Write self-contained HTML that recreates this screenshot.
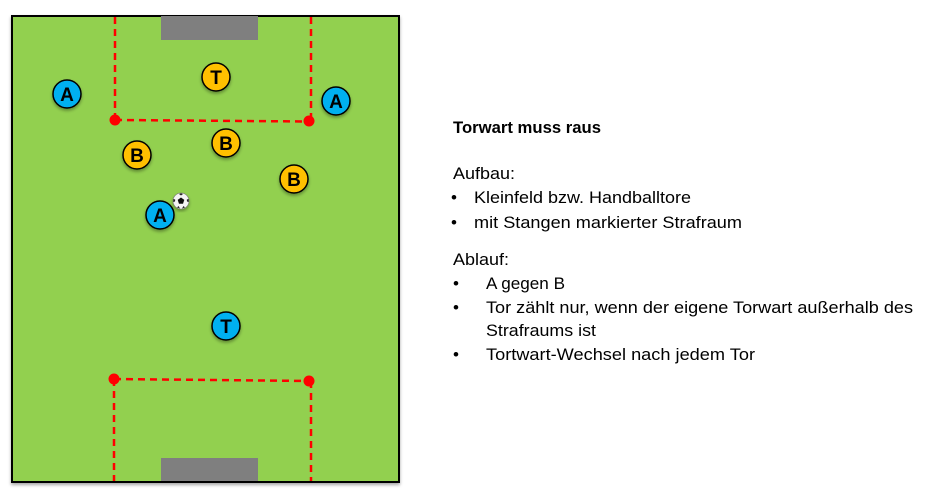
<!DOCTYPE html>
<html><head><meta charset="utf-8"><style>
html,body{margin:0;padding:0;background:#fff;}
svg{display:block;}
text{font-family:"Liberation Sans",Arial,sans-serif;}
</style></head><body>
<svg width="929" height="499" viewBox="0 0 929 499" xmlns="http://www.w3.org/2000/svg">
<defs>
<filter id="sh" x="-20%" y="-20%" width="140%" height="140%">
<feGaussianBlur in="SourceAlpha" stdDeviation="1.5"/>
<feOffset dx="0" dy="2" result="b"/>
<feComponentTransfer><feFuncA type="linear" slope="0.35"/></feComponentTransfer>
<feMerge><feMergeNode/><feMergeNode in="SourceGraphic"/></feMerge>
</filter>
</defs>
<rect x="12" y="16" width="387" height="466" fill="#92d050" stroke="#000" stroke-width="2" filter="url(#sh)"/>
<rect x="161" y="16" width="97" height="24" fill="#7f7f7f"/>
<rect x="161" y="458" width="97" height="23" fill="#7f7f7f"/>
<g stroke="#ff0000" stroke-width="2.5" stroke-dasharray="7,5" fill="none">
<line x1="115" y1="17" x2="115" y2="120"/>
<line x1="311" y1="17" x2="311" y2="121"/>
<line x1="115" y1="120" x2="309" y2="121.5"/>
<line x1="114" y1="379" x2="309" y2="381"/>
<line x1="114" y1="379" x2="114" y2="481"/>
<line x1="311" y1="381" x2="311" y2="481"/>
</g>
<g fill="#ff0000">
<circle cx="115" cy="120" r="5.5"/>
<circle cx="309" cy="121" r="5.5"/>
<circle cx="114" cy="379" r="5.5"/>
<circle cx="309" cy="381" r="5.5"/>
</g>
<g stroke="#000" stroke-width="1.5" filter="url(#sh)">
<circle cx="67" cy="94" r="14" fill="#00b0f0"/>
<circle cx="216" cy="77" r="14" fill="#ffc000"/>
<circle cx="336" cy="101" r="14" fill="#00b0f0"/>
<circle cx="137" cy="155" r="14" fill="#ffc000"/>
<circle cx="226" cy="143" r="14" fill="#ffc000"/>
<circle cx="294" cy="179" r="14" fill="#ffc000"/>
<circle cx="160" cy="215" r="14" fill="#00b0f0"/>
<circle cx="226" cy="326" r="14" fill="#00b0f0"/>
</g>
<g font-weight="bold" font-size="19" text-anchor="middle" fill="#000">
<text x="67" y="101">A</text>
<text x="216" y="84">T</text>
<text x="336" y="108">A</text>
<text x="137" y="162">B</text>
<text x="226" y="150">B</text>
<text x="294" y="186">B</text>
<text x="160" y="222">A</text>
<text x="226" y="333">T</text>
</g>
<g filter="url(#sh)">
<circle cx="181" cy="201" r="8" fill="#f4f4f4" stroke="#777" stroke-width="0.6"/>
<polygon points="181,197.5 184.3,199.9 183,203.8 179,203.8 177.7,199.9" fill="#111"/>
<path d="M181,193.2 L183,194 L181,195.5 L179,194 Z" fill="#222"/>
<path d="M188.6,199 L188.8,202 L187,201.5 L186.8,199.5 Z" fill="#222"/>
<path d="M173.4,199 L175.2,199.5 L175,201.5 L173.2,202 Z" fill="#222"/>
<path d="M177,207.5 L178.5,206 L180,208.5 Z" fill="#222"/>
<path d="M185,207.5 L183.5,206 L182,208.5 Z" fill="#222"/>
</g>
<g font-size="17" fill="#000">
<text x="453" y="133" font-weight="bold" font-size="16.5" textLength="148" lengthAdjust="spacingAndGlyphs">Torwart muss raus</text>
<text x="453" y="179" textLength="62" lengthAdjust="spacingAndGlyphs">Aufbau:</text>
<text x="451" y="203">•</text>
<text x="474" y="203" textLength="217" lengthAdjust="spacingAndGlyphs">Kleinfeld bzw. Handballtore</text>
<text x="451" y="228">•</text>
<text x="474" y="228" textLength="268" lengthAdjust="spacingAndGlyphs">mit Stangen markierter Strafraum</text>
<text x="453" y="265" textLength="56" lengthAdjust="spacingAndGlyphs">Ablauf:</text>
<text x="453" y="289">•</text>
<text x="486" y="289" textLength="79" lengthAdjust="spacingAndGlyphs">A gegen B</text>
<text x="453" y="313">•</text>
<text x="486" y="313" textLength="427" lengthAdjust="spacingAndGlyphs">Tor zählt nur, wenn der eigene Torwart außerhalb des</text>
<text x="486" y="336" textLength="110" lengthAdjust="spacingAndGlyphs">Strafraums ist</text>
<text x="453" y="360">•</text>
<text x="486" y="360" textLength="269" lengthAdjust="spacingAndGlyphs">Tortwart-Wechsel nach jedem Tor</text>
</g>
</svg>
</body></html>
